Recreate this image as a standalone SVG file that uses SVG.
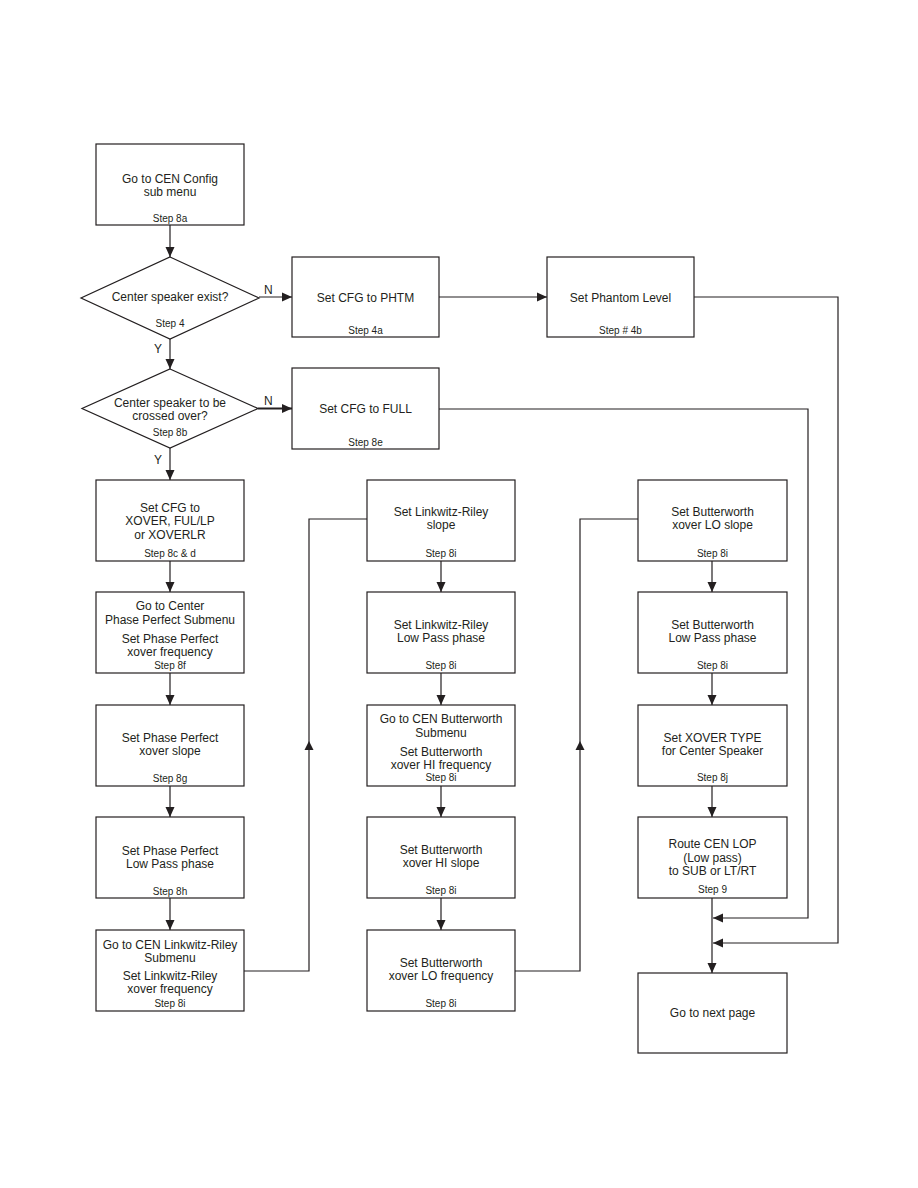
<svg xmlns="http://www.w3.org/2000/svg" width="918" height="1188" viewBox="0 0 918 1188">
<defs>
<style>
.b{fill:#fff;stroke:#231f20;stroke-width:1.2}
.t{font-family:"Liberation Sans",Arial,sans-serif;font-size:12px;fill:#231f20;text-anchor:middle}
.s{font-family:"Liberation Sans",Arial,sans-serif;font-size:10px;fill:#231f20;text-anchor:middle}
.l{font-family:"Liberation Sans",Arial,sans-serif;font-size:12px;fill:#231f20}
.c{fill:none;stroke:#231f20;stroke-width:1.2}
.a{fill:#231f20}
</style>
<marker id="ar" markerUnits="userSpaceOnUse" markerWidth="10" markerHeight="10" viewBox="0 0 10 10" refX="10" refY="5" orient="auto"><path d="M0,0.5 L10,5 L0,9.5 z" fill="#231f20"/></marker>
</defs>
<rect width="918" height="1188" fill="#fff"/>
<g id="connectors">
<path class="c" d="M170,225 V257" marker-end="url(#ar)"/>
<path class="c" d="M259,297 H292" marker-end="url(#ar)"/>
<path class="c" d="M439,297 H547" marker-end="url(#ar)"/>
<path class="c" d="M694,297 H838 V943 H713" marker-end="url(#ar)"/>
<path class="c" d="M170,339 V369" marker-end="url(#ar)"/>
<path class="c" style="stroke-width:2" d="M258,408.5 H292" marker-end="url(#ar)"/>
<path class="c" d="M439,409 H808 V918 H713" marker-end="url(#ar)"/>
<path class="c" d="M170,448 V480" marker-end="url(#ar)"/>
<path class="c" d="M170,561 V592" marker-end="url(#ar)"/>
<path class="c" d="M170,673 V705" marker-end="url(#ar)"/>
<path class="c" d="M170,786 V817" marker-end="url(#ar)"/>
<path class="c" d="M170,898 V930" marker-end="url(#ar)"/>
<path class="c" d="M244,971 H309 V519 H367"/>
<polygon class="a" points="309,741 304.5,750 313.5,750"/>
<path class="c" d="M441,561 V592" marker-end="url(#ar)"/>
<path class="c" d="M441,673 V705" marker-end="url(#ar)"/>
<path class="c" d="M441,786 V817" marker-end="url(#ar)"/>
<path class="c" d="M441,898 V930" marker-end="url(#ar)"/>
<path class="c" d="M515,971 H580 V519 H638"/>
<polygon class="a" points="580,741 575.5,750 584.5,750"/>
<path class="c" d="M712,561 V592" marker-end="url(#ar)"/>
<path class="c" d="M712,673 V705" marker-end="url(#ar)"/>
<path class="c" d="M712,786 V817" marker-end="url(#ar)"/>
<path class="c" d="M712,898 V973" marker-end="url(#ar)"/>
<text class="l" x="264" y="294">N</text>
<text class="l" x="264" y="405">N</text>
<text class="l" x="154" y="353">Y</text>
<text class="l" x="154" y="464">Y</text>
</g>
<g id="n1"><rect class="b" x="96" y="144" width="148" height="81"/><text class="t" x="170" y="183">Go to CEN Config</text><text class="t" x="170" y="196">sub menu</text><text class="s" x="170" y="222">Step 8a</text></g>
<g id="d1"><polygon class="b" points="170,257 259,298 170,339 81,298"/><text class="t" x="170" y="301">Center speaker exist?</text><text class="s" x="170" y="327">Step 4</text></g>
<g id="n2"><rect class="b" x="292" y="257" width="147" height="80"/><text class="t" x="365.5" y="302">Set CFG to PHTM</text><text class="s" x="365.5" y="334">Step 4a</text></g>
<g id="n3"><rect class="b" x="547" y="257" width="147" height="80"/><text class="t" x="620.5" y="302">Set Phantom Level</text><text class="s" x="620.5" y="334">Step # 4b</text></g>
<g id="d2"><polygon class="b" points="170,369 258,408.5 170,448 82,408.5"/><text class="t" x="170" y="407">Center speaker to be</text><text class="t" x="170" y="420">crossed over?</text><text class="s" x="170" y="436">Step 8b</text></g>
<g id="n4"><rect class="b" x="292" y="368" width="147" height="81"/><text class="t" x="365.5" y="413">Set CFG to FULL</text><text class="s" x="365.5" y="446">Step 8e</text></g>
<g id="n5"><rect class="b" x="96" y="480" width="148" height="81"/><text class="t" x="170" y="512">Set CFG to</text><text class="t" x="170" y="525">XOVER, FUL/LP</text><text class="t" x="170" y="539">or XOVERLR</text><text class="s" x="170" y="557">Step 8c &amp; d</text></g>
<g id="n6"><rect class="b" x="96" y="592" width="148" height="81"/><text class="t" x="170" y="610">Go to Center</text><text class="t" x="170" y="624">Phase Perfect Submenu</text><text class="t" x="170" y="643">Set Phase Perfect</text><text class="t" x="170" y="656">xover frequency</text><text class="s" x="170" y="669">Step 8f</text></g>
<g id="n7"><rect class="b" x="96" y="705" width="148" height="81"/><text class="t" x="170" y="742">Set Phase Perfect</text><text class="t" x="170" y="755">xover slope</text><text class="s" x="170" y="782">Step 8g</text></g>
<g id="n8"><rect class="b" x="96" y="817" width="148" height="81"/><text class="t" x="170" y="855">Set Phase Perfect</text><text class="t" x="170" y="868">Low Pass phase</text><text class="s" x="170" y="895">Step 8h</text></g>
<g id="n9"><rect class="b" x="96" y="930" width="148" height="81"/><text class="t" x="170" y="949">Go to  CEN Linkwitz-Riley</text><text class="t" x="170" y="962">Submenu</text><text class="t" x="170" y="980">Set Linkwitz-Riley</text><text class="t" x="170" y="993">xover frequency</text><text class="s" x="170" y="1007">Step 8i</text></g>
<g id="n10"><rect class="b" x="367" y="480" width="148" height="81"/><text class="t" x="441" y="516">Set Linkwitz-Riley</text><text class="t" x="441" y="529">slope</text><text class="s" x="441" y="557">Step 8i</text></g>
<g id="n11"><rect class="b" x="367" y="592" width="148" height="81"/><text class="t" x="441" y="629">Set Linkwitz-Riley</text><text class="t" x="441" y="642">Low Pass phase</text><text class="s" x="441" y="669">Step 8i</text></g>
<g id="n12"><rect class="b" x="367" y="705" width="148" height="81"/><text class="t" x="441" y="723">Go to CEN Butterworth</text><text class="t" x="441" y="737">Submenu</text><text class="t" x="441" y="756">Set Butterworth</text><text class="t" x="441" y="769">xover HI frequency</text><text class="s" x="441" y="781">Step 8i</text></g>
<g id="n13"><rect class="b" x="367" y="817" width="148" height="81"/><text class="t" x="441" y="854">Set Butterworth</text><text class="t" x="441" y="867">xover HI slope</text><text class="s" x="441" y="894">Step 8i</text></g>
<g id="n14"><rect class="b" x="367" y="930" width="148" height="81"/><text class="t" x="441" y="967">Set Butterworth</text><text class="t" x="441" y="980">xover LO frequency</text><text class="s" x="441" y="1007">Step 8i</text></g>
<g id="n15"><rect class="b" x="638" y="480" width="149" height="81"/><text class="t" x="712.5" y="516">Set Butterworth</text><text class="t" x="712.5" y="529">xover LO slope</text><text class="s" x="712.5" y="557">Step 8i</text></g>
<g id="n16"><rect class="b" x="638" y="592" width="149" height="81"/><text class="t" x="712.5" y="629">Set Butterworth</text><text class="t" x="712.5" y="642">Low Pass phase</text><text class="s" x="712.5" y="669">Step 8i</text></g>
<g id="n17"><rect class="b" x="638" y="705" width="149" height="81"/><text class="t" x="712.5" y="742">Set XOVER TYPE</text><text class="t" x="712.5" y="755">for Center Speaker</text><text class="s" x="712.5" y="781">Step 8j</text></g>
<g id="n18"><rect class="b" x="638" y="817" width="149" height="81"/><text class="t" x="712.5" y="848">Route CEN LOP</text><text class="t" x="712.5" y="862">(Low pass)</text><text class="t" x="712.5" y="875">to SUB or LT/RT</text><text class="s" x="712.5" y="893">Step 9</text></g>
<g id="n19"><rect class="b" x="638" y="973" width="149" height="80"/><text class="t" x="712.5" y="1017">Go to next page</text></g>
</svg>
